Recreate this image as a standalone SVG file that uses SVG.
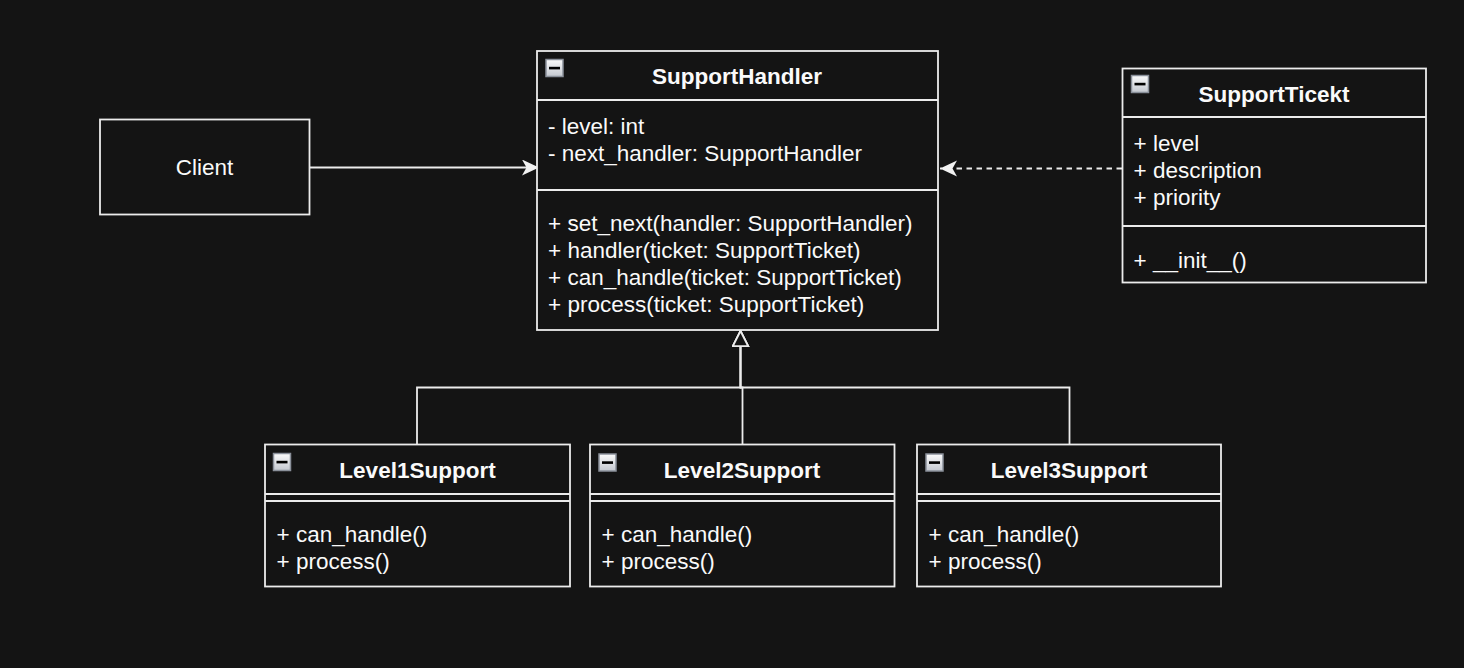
<svg xmlns="http://www.w3.org/2000/svg" width="1464" height="668" viewBox="0 0 1464 668">
  <defs>
    <style>
      .box { fill: #141414; stroke: #ececec; stroke-width: 1.8; }
      .sep { stroke: #ececec; stroke-width: 1.8; fill: none; }
      .t { font-family: "Liberation Sans", Arial, Helvetica, sans-serif; font-size: 22.5px; fill: #fafafa; }
      .title { font-weight: bold; text-anchor: middle; }
      .mid { text-anchor: middle; }
      .edge { stroke: #ececec; stroke-width: 1.8; fill: none; }
      .dash { stroke-dasharray: 5.5 4.5; }
      .iconbox { fill: url(#icg); stroke: #8a909a; stroke-width: 1.5; }
      .iconbar { fill: #000000; }
    </style>
    <linearGradient id="icg" x1="0" y1="0" x2="0" y2="1">
      <stop offset="0" stop-color="#fbfbfb"/>
      <stop offset="1" stop-color="#c4c8d0"/>
    </linearGradient>
    <marker id="arr" markerWidth="20" markerHeight="20" refX="17" refY="8" orient="auto" markerUnits="userSpaceOnUse">
      <path d="M0,0 L17,8 L0,16 L4.5,8 Z" fill="#f2f2f2"/>
    </marker>
    <marker id="tri" markerWidth="20" markerHeight="20" refX="16" refY="8.5" orient="auto" markerUnits="userSpaceOnUse">
      <path d="M0.9,0.9 L16,8.5 L0.9,16.1 Z" fill="#141414" stroke="#ececec" stroke-width="1.8"/>
    </marker>
    <g id="icon">
      <rect class="iconbox" x="0" y="0" width="17" height="17"/>
      <rect class="iconbar" x="3" y="7.3" width="11" height="2.6"/>
    </g>
  </defs>

  <rect x="0" y="0" width="1464" height="668" fill="#141414"/>

  <g id="connectors">
    <path class="edge" d="M310,167.5 H539" marker-end="url(#arr)"/>
    <path class="edge dash" d="M1122,168.5 H940" marker-end="url(#arr)"/>
    <path class="edge" d="M417,444.5 V387.5 H740.5 V331" marker-end="url(#tri)"/>
    <path class="edge" d="M742.5,444.5 V387.5 H740.5 V331" marker-end="url(#tri)"/>
    <path class="edge" d="M1069.5,444.5 V387.5 H740.5 V331" marker-end="url(#tri)"/>
  </g>

  <g id="client">
    <rect class="box" x="100" y="119.5" width="209.5" height="95"/>
    <text class="t mid" x="204.5" y="175">Client</text>
  </g>

  <g id="support-handler">
    <rect class="box" x="537" y="51" width="401" height="279"/>
    <line class="sep" x1="537" y1="100" x2="938" y2="100"/>
    <line class="sep" x1="537" y1="190" x2="938" y2="190"/>
    <use href="#icon" x="546" y="59.5"/>
    <text class="t title" x="737" y="84">SupportHandler</text>
    <text class="t" x="548" y="133.5">- level: int</text>
    <text class="t" x="548" y="160.5">- next_handler: SupportHandler</text>
    <text class="t" x="548" y="231">+ set_next(handler: SupportHandler)</text>
    <text class="t" x="548" y="258">+ handler(ticket: SupportTicket)</text>
    <text class="t" x="548" y="285">+ can_handle(ticket: SupportTicket)</text>
    <text class="t" x="548" y="311.5">+ process(ticket: SupportTicket)</text>
  </g>

  <g id="support-ticket">
    <rect class="box" x="1122.5" y="68.5" width="303.5" height="214"/>
    <line class="sep" x1="1122.5" y1="117" x2="1426" y2="117"/>
    <line class="sep" x1="1122.5" y1="226" x2="1426" y2="226"/>
    <use href="#icon" x="1131.5" y="75.5"/>
    <text class="t title" x="1274" y="101.5">SupportTicekt</text>
    <text class="t" x="1133.5" y="151">+ level</text>
    <text class="t" x="1133.5" y="178">+ description</text>
    <text class="t" x="1133.5" y="205">+ priority</text>
    <text class="t" x="1133.5" y="268">+ __init__()</text>
  </g>

  <g id="level1-support">
    <rect class="box" x="265" y="444.5" width="305" height="142"/>
    <line class="sep" x1="265" y1="494" x2="570" y2="494"/>
    <line class="sep" x1="265" y1="501" x2="570" y2="501"/>
    <use href="#icon" x="273.5" y="453.5"/>
    <text class="t title" x="417.5" y="477.5">Level1Support</text>
    <text class="t" x="276.5" y="542">+ can_handle()</text>
    <text class="t" x="276.5" y="569">+ process()</text>
  </g>

  <g id="level2-support">
    <rect class="box" x="590" y="444.5" width="304.5" height="142"/>
    <line class="sep" x1="590" y1="494" x2="894.5" y2="494"/>
    <line class="sep" x1="590" y1="501" x2="894.5" y2="501"/>
    <use href="#icon" x="599" y="454"/>
    <text class="t title" x="742" y="477.5">Level2Support</text>
    <text class="t" x="601.5" y="542">+ can_handle()</text>
    <text class="t" x="601.5" y="569">+ process()</text>
  </g>

  <g id="level3-support">
    <rect class="box" x="917" y="444.5" width="304" height="142"/>
    <line class="sep" x1="917" y1="494" x2="1221" y2="494"/>
    <line class="sep" x1="917" y1="501" x2="1221" y2="501"/>
    <use href="#icon" x="926" y="454"/>
    <text class="t title" x="1069" y="477.5">Level3Support</text>
    <text class="t" x="928.5" y="542">+ can_handle()</text>
    <text class="t" x="928.5" y="569">+ process()</text>
  </g>
</svg>
